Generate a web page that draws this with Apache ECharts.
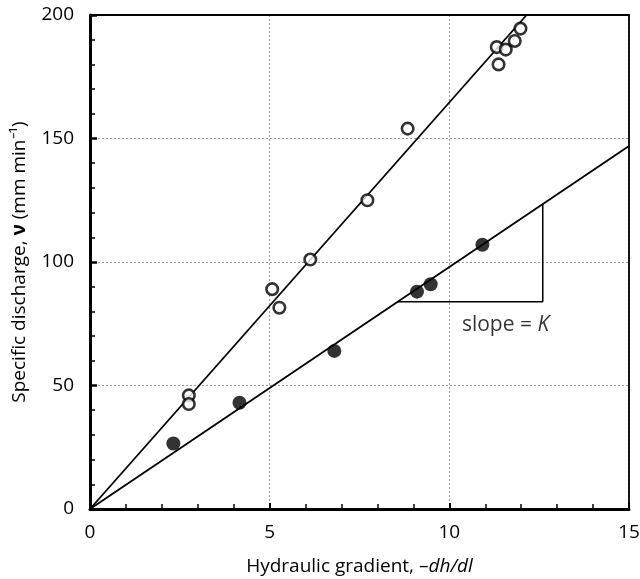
<!DOCTYPE html>
<html><head><meta charset="utf-8">
<script src="https://cdn.jsdelivr.net/npm/echarts@6/dist/echarts.min.js"></script>
<style>html,body{margin:0;padding:0;background:#fff}#c{width:640px;height:579px}</style>
</head><body><div id="c"></div>
<script>
// Open circles (upper data set)
const openX = [2.75, 2.75, 5.07, 5.27, 6.13, 7.72, 8.84, 11.32, 11.37, 11.57, 11.82, 11.98];
const openY = [46, 42.5, 89, 81.5, 101, 125, 154, 187, 180, 186, 189.5, 194.5];
// Filled circles (lower data set)
const filledX = [2.32, 4.16, 6.8, 9.1, 9.48, 10.92];
const filledY = [26.5, 43, 64, 88, 91, 107];
// Fitted lines through origin
const upperLineX = [0, 12.15];
const upperLineY = [0, 200];
const lowerLineX = [0, 15];
const lowerLineY = [0, 147];
// Slope triangle
const triX = [8.56, 12.6, 12.6];
const triY = [83.9, 83.9, 123.5];
// Annotation anchor
const noteX = [10.35];
const noteY = [74.6];
// Axis ticks
const xTicks = [0, 5, 10, 15];
const yTicks = [0, 50, 100, 150, 200];

const zip = (a, b) => a.map((v, i) => [v, b[i]]);
const FONT = 'Open Sans';
const TXT = '#000';

const chart = echarts.init(document.getElementById('c'), null, {renderer: 'canvas'});
chart.setOption({
  animation: false,
  backgroundColor: '#fff',
  grid: {left: 90, right: 11, top: 15, bottom: 70, containLabel: false, outerBoundsMode: 'none'},
  xAxis: [{
    type: 'value', min: xTicks[0], max: xTicks[xTicks.length - 1], interval: 5,
    axisLine: {lineStyle: {color: '#000', width: 3}},
    axisTick: {inside: true, length: 6, lineStyle: {color: '#000', width: 2}},
    minorTick: {show: true, splitNumber: 5, length: 5, lineStyle: {color: '#000', width: 1.5}},
    splitLine: {show: true, lineStyle: {color: '#9a9a9a', type: [2, 2], width: 1}},
    axisLabel: {color: TXT, fontFamily: FONT, fontSize: 19, margin: 14},
    name: '{n|Hydraulic gradient, –}{i|dh/dl}',
    nameLocation: 'middle', nameGap: 48,
    nameTextStyle: {rich: {
      n: {fontFamily: FONT, fontSize: 19, color: TXT},
      i: {fontFamily: FONT, fontSize: 19, color: TXT, fontStyle: 'italic'}
    }}
  }, {
    type: 'value', position: 'top', min: 0, max: 15,
    axisLine: {show: true, onZero: false, lineStyle: {color: '#000', width: 1.8}},
    axisTick: {show: false}, axisLabel: {show: false}, splitLine: {show: false}
  }],
  yAxis: [{
    type: 'value', min: yTicks[0], max: yTicks[yTicks.length - 1], interval: 50,
    axisLine: {show: true, lineStyle: {color: '#000', width: 3}},
    axisTick: {show: true, inside: true, length: 7, lineStyle: {color: '#000', width: 2.5}},
    minorTick: {show: true, splitNumber: 5, length: 5, lineStyle: {color: '#000', width: 1.5}},
    splitLine: {show: true, lineStyle: {color: '#9a9a9a', type: [2, 2], width: 1}},
    axisLabel: {color: TXT, fontFamily: FONT, fontSize: 19, margin: 16},
    name: '{n|Specific discharge, }{v|ν}{n| (mm min⁻¹)}',
    nameLocation: 'middle', nameGap: 61, nameRotate: 90,
    nameTextStyle: {rich: {
      n: {fontFamily: FONT, fontSize: 19, color: TXT},
      v: {fontFamily: FONT, fontSize: 19, color: TXT, fontWeight: 'bold'}
    }}
  }, {
    type: 'value', position: 'right', min: 0, max: 200,
    axisLine: {show: true, onZero: false, lineStyle: {color: '#000', width: 1.8}},
    axisTick: {show: false}, axisLabel: {show: false}, splitLine: {show: false}
  }],
  series: [
    {type: 'line', data: zip(upperLineX, upperLineY), symbol: 'none',
     lineStyle: {color: '#000', width: 1.8}, silent: true},
    {type: 'line', data: zip(lowerLineX, lowerLineY), symbol: 'none',
     lineStyle: {color: '#000', width: 1.8}, silent: true},
    {type: 'line', data: zip(triX, triY), symbol: 'none',
     lineStyle: {color: '#000', width: 1.5}, silent: true},
    {type: 'scatter', data: zip(openX, openY), symbol: 'circle', symbolSize: 11.5,
     itemStyle: {color: '#fff', borderColor: '#000', borderWidth: 2.6}, z: 5},
    {type: 'scatter', data: zip(filledX, filledY), symbol: 'circle', symbolSize: 14,
     itemStyle: {color: '#000'}, z: 5},
    {type: 'scatter', data: zip(noteX, noteY), symbolSize: 0, silent: true,
     label: {show: true, position: 'right', distance: 0,
       formatter: '{n|slope = }{i|K}',
       rich: {
         n: {fontFamily: FONT, fontSize: 21, color: TXT},
         i: {fontFamily: FONT, fontSize: 21, color: TXT, fontStyle: 'italic'}
       }}}
  ]
});
</script></body></html>
